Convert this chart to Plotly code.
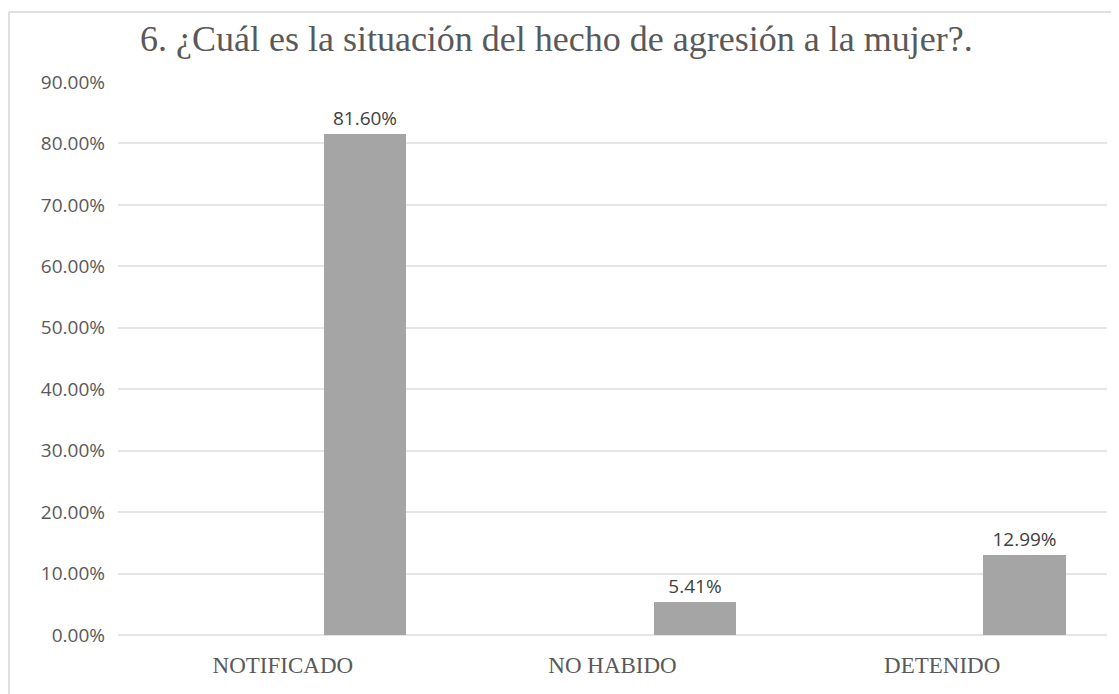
import plotly.graph_objects as go

categories = ["NOTIFICADO", "NO HABIDO", "DETENIDO"]
values = [0.8160, 0.0541, 0.1299]
labels = ["81.60%", "5.41%", "12.99%"]
tick_vals = [0, 0.1, 0.2, 0.3, 0.4, 0.5, 0.6, 0.7, 0.8, 0.9]
tick_text = ["0.00%", "10.00%", "20.00%", "30.00%", "40.00%", "50.00%",
             "60.00%", "70.00%", "80.00%", "90.00%"]
title_text = "6. ¿Cuál es la situación del hecho de agresión a la mujer?."

fig = go.Figure()
fig.add_trace(go.Bar(
    x=categories, y=values,
    width=0.25, offset=0.125,
    marker=dict(color="#A5A5A5", line=dict(width=0)),
    text=labels, textposition="outside", cliponaxis=False,
    textfont=dict(family="Open Sans, DejaVu Sans, sans-serif", size=19, color="#404040"),
    hoverinfo="skip",
))

fig.update_layout(
    width=1119, height=694,
    margin=dict(l=110, r=20, t=74, b=67),
    paper_bgcolor="white", plot_bgcolor="white",
    showlegend=False,
    title=dict(text=title_text, x=0.49, xanchor="center", y=0.956, yanchor="middle",
               font=dict(family="Liberation Serif, Times New Roman, serif", size=36, color="#595959")),
    xaxis=dict(showgrid=False, showline=False, zeroline=False, ticks="",
               tickfont=dict(family="Liberation Serif, Times New Roman, serif", size=23, color="#595959"),
               ticklabelstandoff=14, range=[-0.5, 2.5]),
    yaxis=dict(range=[0, 0.9], tickvals=tick_vals, ticktext=tick_text,
               showgrid=True, gridcolor="#E5E5E5", gridwidth=1.5,
               zeroline=True, zerolinecolor="#E5E5E5", zerolinewidth=1.5,
               showline=False, ticks="",
               tickfont=dict(family="Open Sans, DejaVu Sans, sans-serif", size=19, color="#595959"),
               ticklabelstandoff=12),
    bargap=0,
    shapes=[
        dict(type="line", xref="paper", yref="paper", x0=-0.1102, x1=1.03,
             y0=1.1266, y1=1.1266, line=dict(color="#E0E0E0", width=2)),
        dict(type="line", xref="paper", yref="paper", x0=-0.1102, x1=-0.1102,
             y0=1.1266, y1=-0.13, line=dict(color="#E0E0E0", width=2)),
    ],
)

fig.write_html("out.html")
